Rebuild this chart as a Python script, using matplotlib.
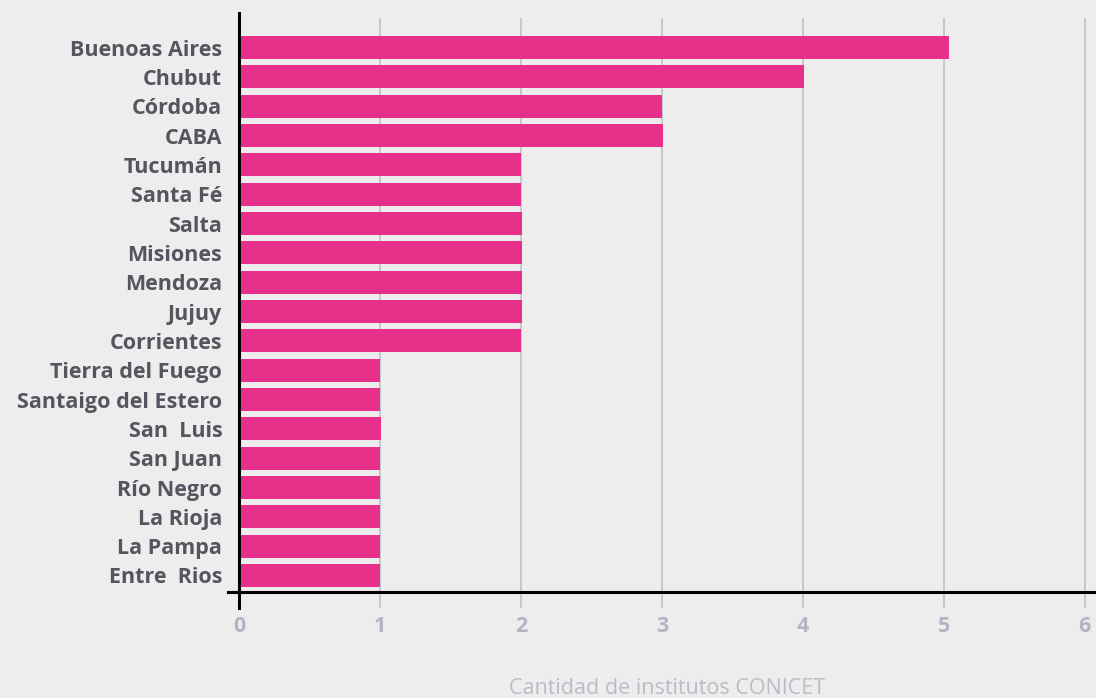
import matplotlib.pyplot as plt

# Provincias y cantidad de institutos (de abajo hacia arriba)
provincias = ["Entre  Rios", "La Pampa", "La Rioja", "Río Negro", "San Juan", "San  Luis",
              "Santaigo del Estero", "Tierra del Fuego", "Corrientes", "Jujuy", "Mendoza",
              "Misiones", "Salta", "Santa Fé", "Tucumán", "CABA", "Córdoba", "Chubut",
              "Buenoas Aires"]
institutos = [1.0, 1.0, 1.0, 1.0, 1.0, 1.01, 1.0, 1.0, 2.0, 2.01, 2.01,
              2.01, 2.01, 2.0, 2.0, 3.01, 3.0, 4.01, 5.04]
ticks = [0, 1, 2, 3, 4, 5, 6]

bg = "#ededed"
plt.rcParams["font.family"] = ["Open Sans", "DejaVu Sans"]

fig = plt.figure(figsize=(10.96, 6.98), dpi=100, facecolor=bg)
W, H = 1096, 698
left, right, top, bottom = 239, 1096, 18, 608
ax = fig.add_axes([left / W, 1 - bottom / H, (right - left) / W, (bottom - top) / H])
ax.set_facecolor(bg)

y = range(len(provincias))
ax.barh(y, institutos, height=0.78, color="#e8308a", zorder=3)

ax.set_xlim(0, 6.08)
ax.set_ylim(-1.108, 19.006)
ax.grid(axis="x", color="#c6c6cf", linewidth=1.4, zorder=1)
ax.set_xticks(ticks)
ax.set_xticklabels([str(t) for t in ticks])
ax.set_yticks(list(y))
ax.set_yticklabels(provincias)
ax.tick_params(axis="x", length=0, pad=6, labelsize=15.5, labelcolor="#b3b3c2")
ax.tick_params(axis="y", length=0, pad=12, labelsize=15.5, labelcolor="#55555f")
plt.setp(ax.get_xticklabels() + ax.get_yticklabels(), fontweight="bold")
for s in ax.spines.values():
    s.set_visible(False)

# ejes negros
ax.plot([0, 0], [-1.108, 19.18], color="black", linewidth=2.2, clip_on=False, zorder=4)
ax.plot([-0.08, 6.08], [-0.56, -0.56], color="black", linewidth=2.2, clip_on=False, zorder=4)

ax.set_xlabel("Cantidad de institutos CONICET", fontsize=15.5, color="#bcbcc8", labelpad=29)

fig.savefig("out.png", dpi=100, facecolor=bg)
